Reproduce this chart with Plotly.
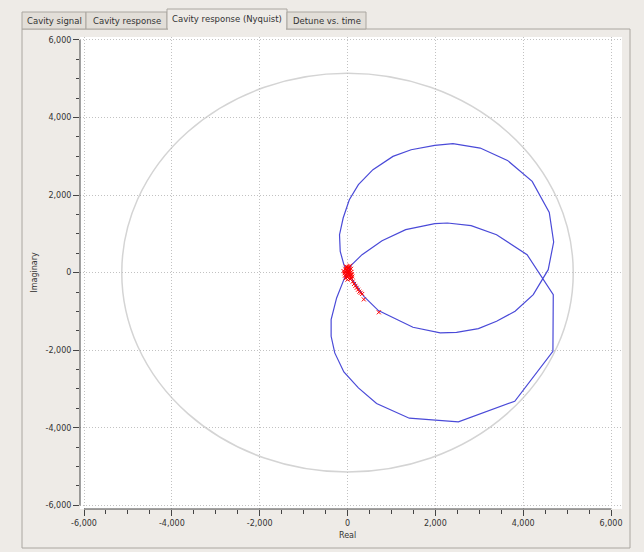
import plotly.graph_objects as go

# ---------------- data ----------------
tab_labels = ["Cavity signal", "Cavity response", "Cavity response (Nyquist)", "Detune vs. time"]
selected_tab = 2

# Blue Nyquist curve (real / imaginary parts)
loopA_re = [0, 373, 704, 1490, 2111, 2483, 2980, 3394, 3816, 4230, 4570, 4694, 4594, 4205,
            3642, 3022, 2401, 1987, 1449, 1035, 579, 248, 41, -99, -182, -166, -83, 0]
loopA_im = [0, -610, -979, -1409, -1555, -1538, -1443, -1254, -997, -567, 77, 790, 1555, 2354,
            2895, 3213, 3325, 3282, 3170, 2998, 2655, 2268, 1881, 1409, 979, 550, 206, 0]
loopB_re = [83, 331, 786, 1325, 1987, 2276, 2815, 3394, 4089, 4685, 4677, 3808, 2525, 1407,
            662, 248, -83, -290, -373, -373, -248, -83, 0]
loopB_im = [189, 464, 825, 1108, 1263, 1280, 1211, 979, 464, -567, -2027, -3316, -3849, -3754,
            -3376, -2973, -2560, -2070, -1641, -1211, -653, -180, 0]

# Red measured points (dense cluster near the origin plus a short trail)
red_re = [-90, -70, -50, -30, -10, 10, 30, 50, 70, 90, -60, -40, -20, 0, 20, 40, 60, 80, 100,
          -50, -30, -10, 10, 30, 50, 70, 90, 110, 0, 20, 40, 60, -20, 0, 20,
          120, 150, 180, 210, 240, 270, 300, 334, 371, 713]
red_im = [40, -20, 100, 160, 60, 130, -40, 70, -110, 20, -80, -140, 0, 90, -60, 150, -160, 100, -40,
          20, 60, -100, -20, 40, -10, -60, -150, -100, -180, 120, 20, 180, 140, -120, 0,
          -230, -290, -340, -390, -440, -490, -520, -550, -690, -1023]

# Reference circle radius
circle_radius = 5140

# Axis ticks
major_ticks = [-6000, -4000, -2000, 0, 2000, 4000, 6000]
major_labels = ["-6,000", "-4,000", "-2,000", "0", "2,000", "4,000", "6,000"]
minor_ticks = [-5500, -5000, -4500, -3500, -3000, -2500, -1500, -1000, -500,
               500, 1000, 1500, 2500, 3000, 3500, 4500, 5000, 5500]

x_range = [-6091, 6250]
y_range = [-6095, 6077]

# ---------------- layout helpers ----------------
W, H = 644, 552
L, R, T, B = 80, 622, 37, 509
BG = "#eeebe7"
TAB_BG = "#e2ded8"
BORDER = "#aaa6a0"
TXT = "#333333"
FONT = "DejaVu Sans"


def px(x):
    return (x - L) / (R - L)


def py(y):
    return (B - y) / (B - T)


def xv(v):
    return (v - x_range[0]) / (x_range[1] - x_range[0])


def yv(v):
    return (v - y_range[0]) / (y_range[1] - y_range[0])


fig = go.Figure()

fig.add_trace(go.Scatter(
    x=loopA_re + loopB_re, y=loopA_im + loopB_im,
    mode="lines", line=dict(color="#4a4ad8", width=1.2),
    hoverinfo="skip", showlegend=False,
))
fig.add_trace(go.Scatter(
    x=red_re, y=red_im, mode="markers",
    marker=dict(symbol="x-thin", size=4, color="red", line=dict(color="red", width=1)),
    hoverinfo="skip", showlegend=False,
))

shapes = []
# panel
shapes.append(dict(type="rect", xref="paper", yref="paper", layer="below",
                   x0=px(22), x1=px(630), y0=py(548), y1=py(29),
                   line=dict(color=BORDER, width=1), fillcolor="rgba(0,0,0,0)"))
# tabs
tab_edges = [(22, 86), (86, 167), (167, 287), (287, 366)]
for i, (a, b) in enumerate(tab_edges):
    top = 9 if i == selected_tab else 12
    fill = BG if i == selected_tab else TAB_BG
    shapes.append(dict(type="rect", xref="paper", yref="paper", layer="below",
                       x0=px(a), x1=px(b), y0=py(29), y1=py(top),
                       line=dict(color=BORDER, width=1), fillcolor=fill))
a, b = tab_edges[selected_tab]
shapes.append(dict(type="line", xref="paper", yref="paper", layer="below",
                   x0=px(a + 1), x1=px(b - 1), y0=py(29), y1=py(29),
                   line=dict(color=BG, width=2)))
# axis backbones spanning the tick range only
shapes.append(dict(type="line", xref="paper", yref="paper",
                   x0=xv(-6000), x1=xv(6000), y0=0, y1=0,
                   line=dict(color="#444444", width=1)))
shapes.append(dict(type="line", xref="paper", yref="paper",
                   x0=0, x1=0, y0=yv(-6000), y1=yv(6000),
                   line=dict(color="#444444", width=1)))
# reference circle
shapes.append(dict(type="circle", xref="x", yref="y", layer="below",
                   x0=-circle_radius, x1=circle_radius, y0=-circle_radius, y1=circle_radius,
                   line=dict(color="#d4d4d4", width=1.5)))

annotations = []
centers = [54, 126.5, 227, 326.5]
for i, lab in enumerate(tab_labels):
    annotations.append(dict(text=lab, xref="paper", yref="paper", showarrow=False,
                            x=px(centers[i]), y=py(19.5 if i == selected_tab else 21),
                            xanchor="center", yanchor="middle",
                            font=dict(family=FONT, size=8.5, color=TXT)))
annotations.append(dict(text="Real", xref="paper", yref="paper", showarrow=False,
                        x=xv(0), y=py(535), xanchor="center", yanchor="middle",
                        font=dict(family=FONT, size=8, color=TXT)))
annotations.append(dict(text="Imaginary", xref="paper", yref="paper", showarrow=False,
                        x=px(35), y=yv(0), xanchor="center", yanchor="middle", textangle=-90,
                        font=dict(family=FONT, size=8, color=TXT)))

axis_common = dict(
    tickvals=major_ticks, ticktext=major_labels,
    ticks="outside", ticklen=6, tickwidth=1, tickcolor="#444444",
    showline=False, zeroline=False,
    showgrid=True, gridcolor="#c2c2c2", gridwidth=1, griddash="1px,2px",
    tickfont=dict(family=FONT, size=8, color=TXT),
    minor=dict(tickvals=minor_ticks, ticks="outside", ticklen=3.5,
               tickcolor="#444444", showgrid=False),
    fixedrange=True,
)

fig.update_layout(
    width=W, height=H,
    margin=dict(l=L, r=W - R, t=T, b=H - B, autoexpand=False),
    paper_bgcolor=BG, plot_bgcolor="white",
    xaxis=dict(range=x_range, **axis_common),
    yaxis=dict(range=y_range, **axis_common),
    shapes=shapes, annotations=annotations,
    showlegend=False, hovermode=False,
)

fig.write_html(
    "out.html",
    config={"displayModeBar": False},
    post_script="document.body.style.margin='0';document.body.style.background='" + BG + "';",
)
